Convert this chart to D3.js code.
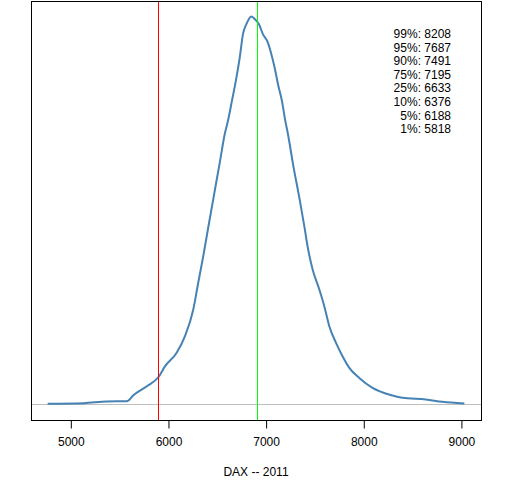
<!DOCTYPE html>
<html>
<head>
<meta charset="utf-8">
<script src="https://cdn.jsdelivr.net/npm/d3@7"></script>
<style>
  body { margin: 0; background: #fff; }
  text { font-family: "Liberation Sans", Arial, sans-serif; }
</style>
</head>
<body>
<svg id="chart"></svg>
<script>
const width = 512;
const height = 480;

// density estimate of simulated DAX year-end values
const values = [4768, 5136, 5374, 5579, 5646, 5783, 5901, 5969, 6089, 6173, 6258, 6309,
  6360, 6411, 6462, 6531, 6582, 6615, 6656, 6701, 6735, 6768, 6803, 6854, 6888, 6932,
  6972, 7023, 7058, 7092, 7126, 7166, 7201, 7228, 7286, 7347, 7398, 7432, 7483, 7551,
  7602, 7653, 7721, 7789, 7857, 7959, 8095, 8299, 8401, 8640, 8809, 9035];
const density = [0.0000019, 0.0000035, 0.0000082, 0.0000090, 0.0000253, 0.0000498,
  0.0000743, 0.000104, 0.000141, 0.000186, 0.000258, 0.000331, 0.000403, 0.000481,
  0.000558, 0.000661, 0.000739, 0.000775, 0.000830, 0.000892, 0.000947, 0.001011,
  0.001038, 0.001059, 0.001052, 0.001038, 0.001011, 0.000988, 0.000957, 0.000920,
  0.000875, 0.000830, 0.000775, 0.000739, 0.000648, 0.000562, 0.000484, 0.000428,
  0.000367, 0.000313, 0.000267, 0.000213, 0.000168, 0.000131, 0.000100, 0.0000726,
  0.0000454, 0.0000245, 0.0000182, 0.0000136, 0.0000073, 0.0000025];

const quantLabels = ['99%', '95%', '90%', '75%', '25%', '10%', '5%', '1%'];
const quantValues = [8208, 7687, 7491, 7195, 6633, 6376, 6188, 5818];

const lastClose = 5898;   // red line
const startValue = 6914;  // green line
const xTicks = [5000, 6000, 7000, 8000, 9000];

const box = { left: 31, right: 481, top: 1, bottom: 420 };

const svg = d3.select('#chart')
    .attr('width', width)
    .attr('height', height);

// R style 4% padding on both ranges
const xr = d3.extent(values);
const xpad = (xr[1] - xr[0]) * 0.04;
const x = d3.scaleLinear()
    .domain([xr[0] - xpad, xr[1] + xpad])
    .range([box.left, box.right]);

const ymax = d3.max(density);
const y = d3.scaleLinear()
    .domain([-ymax * 0.04, ymax * 1.04])
    .range([box.bottom, box.top]);

const px = v => Math.round(v) + 0.5;
const pts = values.map((v, i) => [v, density[i]]);

// zero line
svg.append('line')
    .attr('x1', box.left).attr('x2', box.right)
    .attr('y1', px(y(0))).attr('y2', px(y(0)))
    .style('stroke', '#bebebe');

svg.append('path')
    .datum(pts)
    .attr('d', d3.line().x(d => x(d[0])).y(d => y(d[1])).curve(d3.curveMonotoneX))
    .style('fill', 'none')
    .style('stroke', '#4682b4')
    .style('stroke-width', 2);

svg.append('line')
    .attr('x1', px(x(lastClose))).attr('x2', px(x(lastClose)))
    .attr('y1', box.top).attr('y2', box.bottom)
    .style('stroke', '#ff0000');

svg.append('line')
    .attr('x1', px(x(startValue))).attr('x2', px(x(startValue)))
    .attr('y1', box.top).attr('y2', box.bottom)
    .style('stroke', '#00ff00');

svg.append('rect')
    .attr('x', box.left + 0.5).attr('y', box.top + 0.5)
    .attr('width', box.right - box.left)
    .attr('height', box.bottom - box.top)
    .style('fill', 'none')
    .style('stroke', '#000');

const axis = svg.append('g')
    .attr('transform', `translate(0.5,${box.bottom + 0.5})`)
    .call(d3.axisBottom(x).tickValues(xTicks).tickFormat(d3.format('d')).tickSize(8).tickPadding(9));
axis.select('.domain').remove();
axis.selectAll('line').style('stroke', '#000');
axis.selectAll('text').style('font-size', '12px').style('fill', '#000')
    .style('font-family', '"Liberation Sans", Arial, sans-serif');

svg.append('text')
    .attr('x', (box.left + box.right) / 2)
    .attr('y', 476)
    .attr('text-anchor', 'middle')
    .style('font-size', '12px')
    .text('DAX -- 2011');

svg.append('g').selectAll('text')
    .data(quantLabels)
    .enter().append('text')
    .attr('x', 451)
    .attr('y', (d, i) => 38 + i * 13.6)
    .attr('text-anchor', 'end')
    .style('font-size', '12px')
    .text((d, i) => `${d}: ${quantValues[i]}`);
</script>
</body>
</html>
